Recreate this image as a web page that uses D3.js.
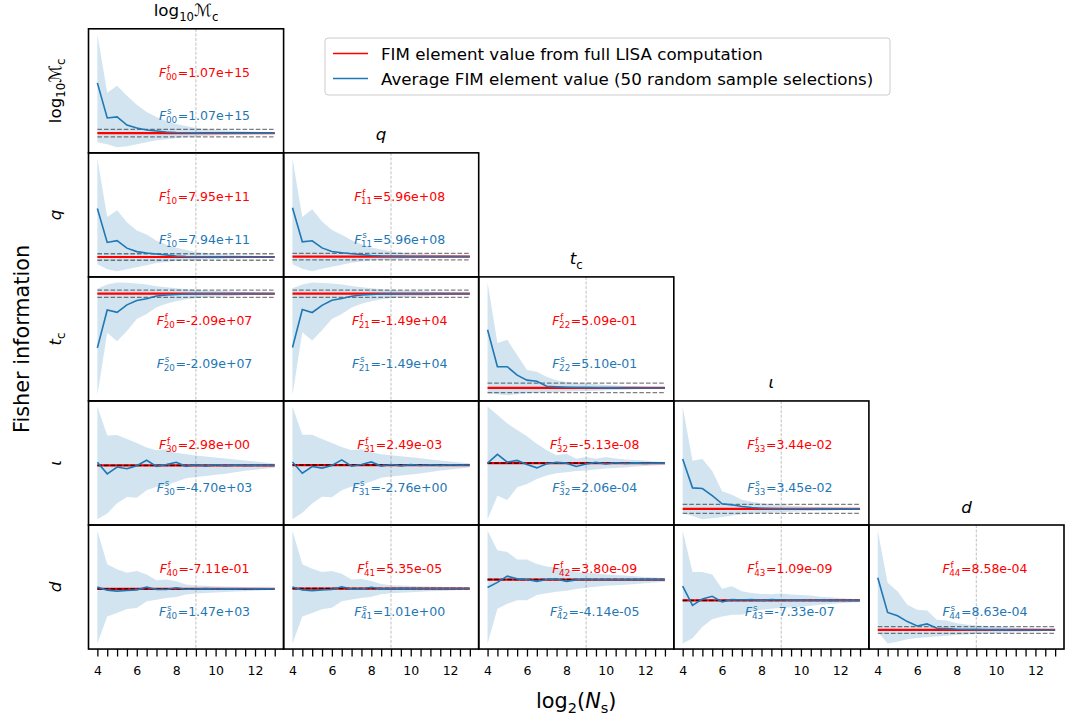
<!DOCTYPE html>
<html>
<head>
<meta charset="utf-8">
<script src="https://cdn.jsdelivr.net/npm/d3@7"></script>
<style>
  body { margin: 0; background: #fff; }
  text { font-family: "DejaVu Sans", sans-serif; }
</style>
</head>
<body>
<svg id="chart" width="1068" height="722"></svg>
<script>
// x positions: log2 of number of samples
const logNs = [4, 4.5, 5, 5.5, 6, 6.5, 7, 7.5, 8, 8.5, 9, 9.5, 10, 10.5, 11, 11.5, 12, 12.5, 13];
const xTickLabels = [4, 6, 8, 10, 12];
const refLine = 9;

// deviation of the sampled FIM element from the full value (per-panel units)
const mean00 = [49.7, 15, 16, 8, 5, 3, 2, 1, 0.5, 0.3, 0.2, 0.1, 0.1, 0, 0, 0, 0, 0, 0];
const hi00 = [97.7, 40, 47, 37, 28, 21, 16, 12, 9, 7, 5, 4, 3, 2.5, 2, 1.7, 1.2, 0.8, 0.5];
const lo00 = [-9, -11, -14, -13, -11, -9, -7, -6, -5, -4, -3.3, -2.8, -2.3, -1.8, -1.5, -1.2, -0.9, -0.6, -0.4];

const mean10 = [47.7, 14.3, 16, 8.7, 5.3, 4, 3, 2, 1, 0.5, 0.3, 0.2, 0.1, 0, 0, 0, 0, 0, 0];
const hi10 = [96.7, 39.3, 46, 34, 26, 22, 16, 12, 9, 7, 5, 4, 3, 2.5, 2, 1.5, 1.2, 0.8, 0.5];
const lo10 = [-7, -12, -14, -12, -10, -8, -6, -5, -4, -3.5, -3, -2.5, -2, -1.8, -1.5, -1.2, -0.9, -0.6, -0.4];

const mean11 = [48, 14.5, 15.5, 8.5, 5, 3.8, 2.8, 2, 1, 0.5, 0.3, 0.2, 0.1, 0, 0, 0, 0, 0, 0];
const hi11 = [96.5, 39, 46.5, 34.5, 26, 21.5, 16, 12, 9, 7, 5, 4, 3, 2.5, 2, 1.5, 1.2, 0.8, 0.5];
const lo11 = [-7.5, -12, -14.5, -12, -10, -8, -6, -5, -4, -3.5, -3, -2.5, -2, -1.8, -1.5, -1.2, -0.9, -0.6, -0.4];

const mean20 = [-53.3, -16, -18.3, -11, -6.7, -5, -2.3, -1.3, -0.7, -0.3, -0.2, -0.1, 0, 0, 0, 0, 0, 0, 0];
const hi20 = [5, 9, 11, 10.7, 10, 9, 7.3, 6.3, 5.3, 4.3, 3.8, 3.2, 2.8, 2.4, 2, 1.7, 1.3, 1, 0.6];
const lo20 = [-100, -38.3, -46.7, -36.7, -25, -20, -13.3, -10, -7.5, -5.5, -4.5, -3.5, -3, -2.5, -2, -1.6, -1.2, -0.9, -0.6];

const mean21 = [-53, -15.5, -18.5, -11.5, -6.5, -4.8, -2.5, -1.3, -0.7, -0.3, -0.2, -0.1, 0, 0, 0, 0, 0, 0, 0];
const hi21 = [5.5, 9, 11, 10.5, 10, 9, 7.5, 6.3, 5.3, 4.3, 3.8, 3.2, 2.8, 2.4, 2, 1.7, 1.3, 1, 0.6];
const lo21 = [-100, -38, -46, -36, -25, -20, -13.5, -10, -7.5, -5.5, -4.5, -3.5, -3, -2.5, -2, -1.6, -1.2, -0.9, -0.6];

const mean22 = [57.7, 21, 21, 12.7, 7.7, 6.7, 1.7, 1.2, 0.7, 0.4, 0.3, 0.2, 0.1, 0.1, 0, 0, 0, 0, 0];
const hi22 = [104.4, 44.4, 47.7, 32.7, 17.7, 16, 11, 7.7, 6, 5, 4.3, 3.6, 3, 2.5, 2, 1.6, 1.2, 0.9, 0.6];
const lo22 = [-5.6, -6.3, -7.3, -6.3, -5.3, -4.8, -4.3, -4, -3.6, -3.3, -3, -2.7, -2.4, -2, -1.7, -1.4, -1.1, -0.8, -0.5];

const mean30 = [3, -8.3, -1.7, -3.3, -0.3, 5, -1, 0.7, 3, -1, 0.5, -0.8, 0.5, -0.5, 0.3, -0.3, 0.2, -0.1, 0];
const hi30 = [57.3, 29, 29.7, 25.7, 21.7, 17.3, 14.7, 15.7, 12.3, 10.7, 9.7, 8.7, 7.7, 6.7, 5.7, 4.7, 3.7, 2.7, 1.7];
const lo30 = [-52.7, -47, -37, -31, -31.7, -24.3, -21, -19.3, -16, -12.7, -11.3, -10.3, -9.3, -8.3, -6.8, -5.3, -4.3, -3.3, -2.3];

const mean31 = [3, -8, -1.5, -3, -0.5, 5, -1.2, 0.5, 3, -1, 0.5, -0.8, 0.4, -0.5, 0.3, -0.3, 0.2, -0.1, 0];
const hi31 = [57, 29.5, 29.5, 25.5, 21.5, 17.5, 14.5, 15.5, 12.5, 10.5, 9.5, 8.5, 7.5, 6.5, 5.5, 4.5, 3.5, 2.5, 1.7];
const lo31 = [-53, -46.5, -37.5, -31, -31.5, -24.5, -21, -19, -16, -12.5, -11.3, -10.3, -9.3, -8.3, -6.8, -5.3, -4.3, -3.3, -2.3];

const mean32 = [0, 8.7, 1, 2.7, -1.3, -4.7, -0.7, 0.7, 0, -3.3, -0.8, 0.7, -0.8, 0.4, -0.3, 0.2, -0.2, 0.1, 0];
const hi32 = [56, 47.7, 39.3, 32.7, 26.7, 19.3, 12.7, 7.7, 9.3, 4.3, 6, 4.4, 6, 4.7, 3.7, 3.2, 2.7, 1.7, 1.2];
const lo32 = [-55.7, -32.3, -36.6, -24, -20.6, -15.6, -12.3, -10, -9, -7.8, -7.3, -6.3, -5.3, -4.8, -4.3, -3.3, -2.8, -2.3, -1.8];

const mean33 = [49, 20.7, 20, 13, 5, 4, 2.3, 1.3, 0.7, 0.4, 0.2, 0.2, 0.1, 0.1, 0, 0, 0, 0, 0];
const hi33 = [100.7, 47.3, 49, 37.3, 17.3, 14, 9, 7, 5.5, 4.5, 3.8, 3.2, 2.7, 2.2, 1.8, 1.4, 1.1, 0.8, 0.5];
const lo33 = [-4.3, -7, -10.3, -9.3, -8, -6.5, -5.5, -4.8, -4.2, -3.7, -3.3, -2.9, -2.5, -2.1, -1.8, -1.5, -1.2, -0.9, -0.6];

const mean40 = [1.7, -1.3, -2.3, -1.7, -1, 1.7, -0.7, -0.7, 1, -0.4, -0.2, 0.2, -0.1, 0.1, 0, 0.1, 0, 0, 0];
const hi40 = [57.6, 24.3, 19.3, 16, 17.6, 14.3, 8.6, 9.3, 7.6, 4.3, 3.3, 3, 2.6, 2.3, 2, 1.7, 1.3, 1, 0.7];
const lo40 = [-54, -27.4, -24, -20, -19, -12.4, -10.7, -9, -8, -5.7, -4.7, -4.2, -3.7, -3.2, -2.7, -2.3, -1.8, -1.4, -1];

const mean41 = [1.5, -1.5, -2, -1.5, -1, 1.8, -0.5, -0.5, 1.2, -0.3, -0.2, 0.2, -0.1, 0.1, 0, 0.1, 0, 0, 0];
const hi41 = [57, 24, 19.5, 16.3, 17.3, 14.5, 8.8, 9.3, 7.5, 4.5, 3.3, 3, 2.6, 2.3, 2, 1.7, 1.3, 1, 0.7];
const lo41 = [-54, -27.5, -24, -20.3, -19, -12.6, -10.7, -9.2, -8, -5.7, -4.7, -4.2, -3.7, -3.2, -2.7, -2.3, -1.8, -1.4, -1];

const mean42 = [-7.7, -2.7, 3.3, 0.7, 0, -1.7, 0, 0.5, -1.7, -0.3, 0.3, -0.2, 0.1, -0.1, 0, 0, 0, 0, 0];
const hi42 = [47.3, 28.3, 26.7, 19.3, 19.3, 15, 12.7, 11.7, 10, 7.3, 6.5, 6, 5, 4.5, 4, 3.3, 2.6, 2, 1.4];
const lo42 = [-61.7, -28.3, -23.3, -20, -20, -15, -13.3, -11.7, -10.7, -9, -8, -7, -6, -5.5, -5, -4.2, -3.5, -2.8, -2];

const mean43 = [14, -5, 1.4, 4, -1.6, 0.7, 0.4, 0.7, 0, 0.7, 0.4, 0.2, 0.3, 0.1, 0.2, 0, 0.1, 0, 0];
const hi43 = [69, 28, 28, 25.7, 11.4, 14, 9, 7.4, 6.4, 6, 6.7, 5.7, 5.4, 4.7, 3.7, 3, 2.4, 1.7, 1.2];
const lo43 = [-42.6, -37.6, -26, -18.6, -16, -14.3, -14.3, -11, -9.3, -8.3, -7.3, -6.8, -6.3, -5.3, -4.3, -3.6, -2.9, -2.2, -1.5];

const mean44 = [51.7, 17.3, 14, 8.3, 4, 6, 1.7, 1.5, 0.7, 0.5, 0.3, 0.2, 0.1, 0.1, 0, 0, 0, 0, 0];
const hi44 = [98.3, 46.7, 38.3, 25, 20, 19.3, 10, 9.3, 6.7, 5.5, 4.7, 4, 3.4, 2.8, 2.3, 1.8, 1.4, 1, 0.7];
const lo44 = [-1.7, -13.3, -11.7, -9.3, -8, -7.3, -6.5, -5.7, -5, -4.4, -3.9, -3.4, -3, -2.6, -2.2, -1.8, -1.4, -1, -0.7];

// printed values
const fullValues = [['1.07e+15'], ['7.95e+11', '5.96e+08'], ['-2.09e+07', '-1.49e+04', '5.09e-01'],
  ['2.98e+00', '2.49e-03', '-5.13e-08', '3.44e-02'], ['-7.11e-01', '5.35e-05', '3.80e-09', '1.09e-09', '8.58e-04']];
const sampleValues = [['1.07e+15'], ['7.94e+11', '5.96e+08'], ['-2.09e+07', '-1.49e+04', '5.10e-01'],
  ['-4.70e+03', '-2.76e+00', '2.06e-04', '3.45e-02'], ['1.47e+03', '1.01e+00', '-4.14e-05', '-7.33e-07', '8.63e-04']];

// half-width of the grey dashed tolerance band, per panel row
const tolerance = [[3.7], [3.2, 3.2], [3.6, 3.6, 4.7], [0.3, 0.3, 0.3, 4.5], [0.3, 0.3, 0.3, 0.3, 3.3]];

const paramLabels = [
  [['log', 'n'], ['10', 'sub'], ['\u2133', 'n'], ['c', 'sub']],
  [['q', 'it']],
  [['t', 'it'], ['c', 'sub']],
  [['\u03b9', 'it']],
  [['d', 'it']]
];

const series = {
  '00': [mean00, lo00, hi00], '10': [mean10, lo10, hi10], '11': [mean11, lo11, hi11],
  '20': [mean20, lo20, hi20], '21': [mean21, lo21, hi21], '22': [mean22, lo22, hi22],
  '30': [mean30, lo30, hi30], '31': [mean31, lo31, hi31], '32': [mean32, lo32, hi32], '33': [mean33, lo33, hi33],
  '40': [mean40, lo40, hi40], '41': [mean41, lo41, hi41], '42': [mean42, lo42, hi42], '43': [mean43, lo43, hi43], '44': [mean44, lo44, hi44]
};

const RED = '#ff0000', BLUE = '#1f77b4';
const gridLeft = 88.5, gridTop = 28.8, cellW = 195.1, cellH = 124.05, nPar = 5;

const svg = d3.select('#chart');

const x = d3.scaleLinear().domain([3.55, 13.45]).range([0, cellW]);

function addRich(sel, parts, size) {
  let shift = 0;
  parts.forEach(([s, kind]) => {
    const sub = kind === 'sub';
    const target = sub ? size * 0.26 : 0;
    sel.append('tspan')
      .attr('dy', target - shift)
      .style('font-size', (sub ? size * 0.7 : size) + 'px')
      .style('font-style', kind === 'it' ? 'italic' : 'normal')
      .text(s);
    shift = target;
  });
}

function fimLabel(g, cx, cy, sup, idx, val, color) {
  const grp = g.append('g').attr('fill', color);
  const f = grp.append('text').style('font-size', '12.5px').style('font-style', 'italic').text('F');
  const w1 = f.node().getComputedTextLength();
  const sp = grp.append('text').attr('x', w1 + 0.8).attr('y', -5.2).style('font-size', '8.8px').text(sup);
  const sb = grp.append('text').attr('x', w1 - 0.4).attr('y', 3.2).style('font-size', '8.8px').text(idx);
  const w2 = Math.max(sp.node().getComputedTextLength() + 0.8, sb.node().getComputedTextLength() - 0.4);
  const rest = grp.append('text').attr('x', w1 + w2 + 0.6).style('font-size', '12.5px').text('=' + val);
  const total = w1 + w2 + 0.6 + rest.node().getComputedTextLength();
  grp.attr('transform', `translate(${cx - total / 2},${cy + 4.5})`);
}

for (let r = 0; r < nPar; r++) {
  for (let c = 0; c <= r; c++) {
    const key = `${r}${c}`;
    const [mean, lo, hi] = series[key];
    const tol = tolerance[r][c];
    const g = svg.append('g').attr('transform', `translate(${gridLeft + c * cellW},${gridTop + r * cellH})`);

    const ext = [Math.min(d3.min(lo), d3.min(mean), -tol), Math.max(d3.max(hi), d3.max(mean), tol)];
    const pad = (ext[1] - ext[0]) * 0.05;
    const y = d3.scaleLinear().domain([ext[0] - pad, ext[1] + pad]).range([cellH, 0]);

    // reference vertical line
    g.append('line')
      .attr('x1', x(refLine)).attr('x2', x(refLine))
      .attr('y1', 0).attr('y2', cellH)
      .attr('stroke', '#b0b0b0').attr('stroke-width', 0.8)
      .attr('stroke-dasharray', '3,1.6');

    // spread band
    const area = d3.area().x((d, i) => x(logNs[i])).y0((d, i) => y(lo[i])).y1((d, i) => y(hi[i]));
    g.append('path').datum(mean).attr('d', area)
      .attr('fill', BLUE).attr('fill-opacity', 0.2);

    // full-computation value
    g.append('line')
      .attr('x1', x(logNs[0])).attr('x2', x(logNs[logNs.length - 1]))
      .attr('y1', y(0)).attr('y2', y(0))
      .attr('stroke', RED).attr('stroke-width', 2.2);

    // tolerance lines
    [tol, -tol].forEach(t => {
      g.append('line')
        .attr('x1', x(logNs[0])).attr('x2', x(logNs[logNs.length - 1]))
        .attr('y1', y(t)).attr('y2', y(t))
        .attr('stroke', '#000').attr('stroke-opacity', 0.5).attr('stroke-width', 1.3)
        .attr('stroke-dasharray', '4.6,2');
    });

    // average sampled value
    const line = d3.line().x((d, i) => x(logNs[i])).y(d => y(d));
    g.append('path').datum(mean).attr('d', line)
      .attr('fill', 'none').attr('stroke', BLUE).attr('stroke-width', 1.6);

    fimLabel(g, cellW * 0.595, cellH * 0.35, 'f', key, fullValues[r][c], RED);
    fimLabel(g, cellW * 0.595, cellH * 0.695, 's', key, sampleValues[r][c], BLUE);

    // frame
    g.append('rect').attr('width', cellW).attr('height', cellH)
      .attr('fill', 'none').attr('stroke', '#000').attr('stroke-width', 1.6);

    if (r === nPar - 1) {
      const axis = d3.axisBottom(x)
        .tickValues(logNs)
        .tickFormat(d => xTickLabels.includes(d) ? d : '')
        .tickSize(7.5).tickPadding(9.5).tickSizeOuter(0);
      const ax = g.append('g').attr('transform', `translate(0,${cellH})`).call(axis);
      ax.select('.domain').remove();
      ax.selectAll('line').attr('stroke-width', 1.3);
      ax.selectAll('text').style('font-size', '12.5px').style('font-family', '"DejaVu Sans", sans-serif').attr('fill', '#000');
    }
  }
}

// column titles above diagonal panels
paramLabels.forEach((parts, i) => {
  const t = svg.append('text')
    .attr('x', gridLeft + cellW * (i + 0.5))
    .attr('y', gridTop + cellH * i - 12.5)
    .attr('text-anchor', 'middle');
  addRich(t, parts, 16.7);
});

// row labels
paramLabels.forEach((parts, i) => {
  const cy = gridTop + cellH * (i + 0.5);
  const t = svg.append('text')
    .attr('transform', `translate(61,${cy}) rotate(-90)`)
    .attr('text-anchor', 'middle');
  addRich(t, parts, 16.7);
});

svg.append('text')
  .attr('transform', `translate(28.5,${gridTop + cellH * 2.5}) rotate(-90)`)
  .attr('text-anchor', 'middle')
  .style('font-size', '20.8px')
  .text('Fisher information');

const xl = svg.append('text')
  .attr('x', gridLeft + cellW * 2.5).attr('y', 708)
  .attr('text-anchor', 'middle');
addRich(xl, [['log', 'n'], ['2', 'sub'], ['(', 'n'], ['N', 'it'], ['s', 'sub'], [')', 'n']], 20.8);

// legend
const legendItems = [
  { label: 'FIM element value from full LISA computation', color: RED },
  { label: 'Average FIM element value (50 random sample selections)', color: BLUE }
];
const lg = svg.append('g').attr('transform', 'translate(325,38)');
lg.append('rect').attr('width', 565).attr('height', 57).attr('rx', 3)
  .attr('fill', '#fff').attr('fill-opacity', 0.8).attr('stroke', '#cccccc').attr('stroke-width', 1);
legendItems.forEach((d, i) => {
  const yy = 15.5 + i * 25;
  lg.append('line').attr('x1', 8).attr('x2', 43).attr('y1', yy).attr('y2', yy)
    .attr('stroke', d.color).attr('stroke-width', 1.6);
  lg.append('text').attr('x', 56).attr('y', yy + 6).style('font-size', '16.7px').text(d.label);
});
</script>
</body>
</html>
